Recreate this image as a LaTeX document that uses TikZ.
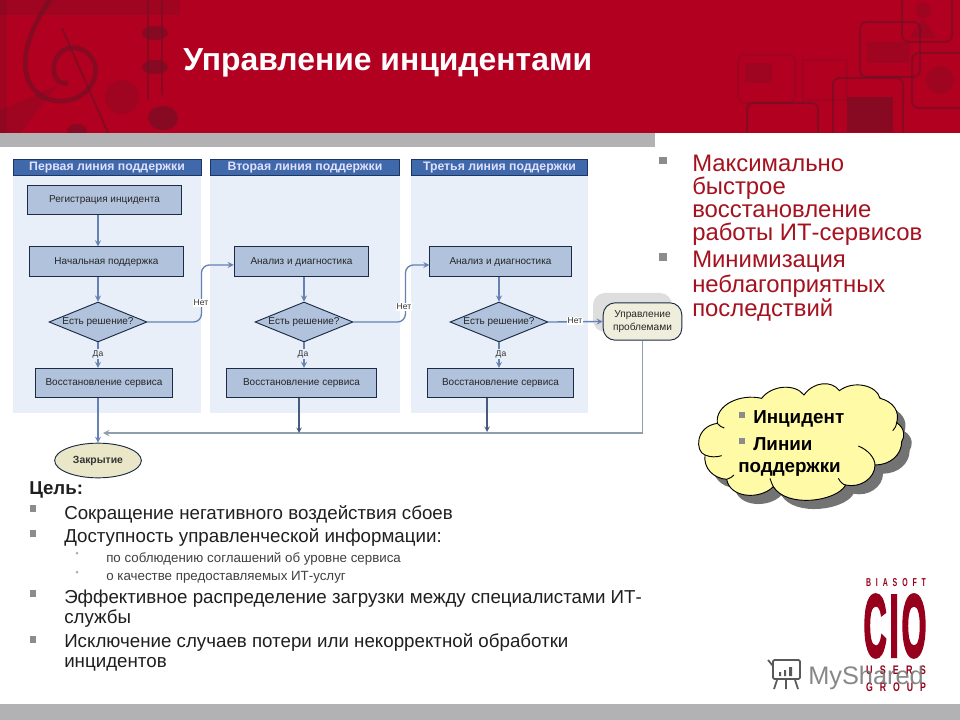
\documentclass[tikz,border=0pt]{standalone}
\usepackage{fontspec}
\setmainfont{Liberation Sans}
\newfontfamily\logofont[FakeBold=4]{Liberation Sans Bold}
\usetikzlibrary{positioning,shapes.geometric,calc}
\definecolor{hdrred}{HTML}{B20021}
\definecolor{darkred}{HTML}{5E1424}
\definecolor{txtred}{HTML}{A5121F}
\definecolor{band}{HTML}{B2B2B4}
\definecolor{bullet}{HTML}{8C8C8C}
\definecolor{lanefill}{HTML}{E9EFF8}
\definecolor{headfill}{HTML}{3F69AA}
\definecolor{headline}{HTML}{1D3560}
\definecolor{boxfill}{HTML}{B0C2DC}
\definecolor{boxline}{HTML}{1B2A45}
\definecolor{arrowblue}{HTML}{6482B4}
\definecolor{returnline}{HTML}{8E9EAC}
\definecolor{cloudfill}{HTML}{FFFAA6}
\definecolor{closefill}{HTML}{E9E7C8}
\definecolor{probfill}{HTML}{EFEEDD}
\tikzset{%
  lane/.style = {fill=lanefill,draw=none},
  lanehead/.style = {rectangle,draw=headline,fill=headfill,line width=.7pt,
        text=white!88!blue,font=\fontsize{9.2}{11}\selectfont\bfseries,inner sep=0pt,
        text height=6.6pt,text depth=1.6pt},
  taskbox/.style = {rectangle,draw=boxline,fill=boxfill,line width=.7pt,
        minimum height=22pt,inner sep=0pt,font=\fontsize{7.5}{10}\selectfont,text=black!85,
        text height=6pt,text depth=1.6pt},
  decide/.style = {diamond,draw=boxline,fill=boxfill,line width=.7pt,aspect=2.45,
        minimum width=73.5pt,minimum height=30pt,inner sep=0pt,
        font=\fontsize{7.5}{10}\selectfont,text=black!85},
  flow/.style = {-stealth,arrowblue,line width=1pt},
  flowgray/.style = {-stealth,black!30!arrowblue,line width=.8pt},
  tag/.style = {font=\fontsize{6.4}{8}\selectfont,inner sep=.6pt,text=black!80},
  redline/.style = {anchor=base west,inner sep=0pt,text=txtred,font=\fontsize{17.9}{18}\selectfont},
  goalline/.style = {anchor=base west,inner sep=0pt,font=\fontsize{14.05}{14}\selectfont,text=black!88},
  subline/.style = {anchor=base west,inner sep=0pt,font=\fontsize{10}{10}\selectfont,text=black!75},
  cloudline/.style = {anchor=base west,inner sep=0pt,font=\fontsize{14.1}{14}\selectfont\bfseries},
  decor/.style = {darkred,opacity=.5},
  faint/.style = {darkred,opacity=.22},
  logo/.style = {anchor=center,inner sep=0pt,text=hdrred!85!black}
}
\def\cloudpath{(112,160) .. controls (105,105) and (180,70) .. (245,85)
  .. controls (275,45) and (345,40) .. (372,75)
  .. controls (400,35) and (455,30) .. (478,62)
  .. controls (520,30) and (590,45) .. (600,85)
  .. controls (640,95) and (660,125) .. (650,158)
  .. controls (675,175) and (675,200) .. (665,215)
  .. controls (665,255) and (630,285) .. (585,285)
  .. controls (585,325) and (540,355) .. (497,345)
  .. controls (470,395) and (320,415) .. (280,350)
  .. controls (240,390) and (150,385) .. (140,328)
  .. controls (100,325) and (70,295) .. (75,255)
  .. controls (45,245) and (45,170) .. (112,160) -- cycle}

\begin{document}
\begin{tikzpicture}[x=.75pt,y=-.75pt]
\useasboundingbox (0,0) rectangle (960,720);
\fill[white] (0,0) rectangle (960,720);
% top bar
\fill[hdrred] (0,0) rectangle (960,133);
\fill[band] (0,133) rectangle (655,147);
\fill[band] (0,704) rectangle (960,720);
% clef and notes
\begin{scope}
\clip (0,0) rectangle (960,133);
\fill[faint] (0,0) rectangle (7,133);
\fill[faint] (0,0) rectangle (180,15);
\fill[faint] (0,133) -- (0,110) -- (58,85) -- (20,133) -- cycle;
\draw[decor,line width=3.5pt] (50,0) .. controls (22,40) and (15,80) .. (43,97)
  .. controls (70,110) and (100,90) .. (95,65)
  .. controls (88,42) and (58,42) .. (54,65) .. controls (52,78) and (60,85) .. (68,83);
\draw[decor,line width=1.5pt] (62,28) -- (108,133);
\draw[decor,line width=2pt] (148,0) -- (148,100);
\draw[decor,line width=2pt] (162,0) -- (162,95);
\fill[decor] (155,33) ellipse (13 and 7);
\fill[decor] (155,67) ellipse (13 and 7);
\fill[faint] (122,97) ellipse (17 and 17);
\fill[decor] (163,118) ellipse (15 and 12);
\fill[decor] (77,131) ellipse (10 and 7);
\end{scope}
% screens
\begin{scope}
\clip (0,0) rectangle (960,133);
\draw[decor,line width=1.5pt,rounded corners=5pt] (902,-5) rectangle (952,42);
\draw[decor,line width=1.5pt,rounded corners=5pt] (860,22) rectangle (920,77);
\draw[decor,line width=1.5pt,rounded corners=5pt] (912,53) rectangle (965,108);
\draw[decor,line width=1.5pt,rounded corners=5pt] (833,78) rectangle (903,140);
\draw[decor,line width=1.5pt,rounded corners=5pt] (747,103) rectangle (818,140);
\draw[faint,line width=1.5pt,rounded corners=5pt] (738,55) rectangle (795,103);
\draw[faint,line width=1.5pt] (803,60) rectangle (847,100);
\fill[faint] (867,42) rectangle (910,63);
\fill[decor] (847,97) rectangle (893,132);
\fill[faint] (745,63) rectangle (772,83);
\fill[faint] (923,10) circle (8);
\fill[faint] (923,18) -- (937,38) -- (909,38) -- cycle;
\fill[faint] (940,80) circle (14);
\end{scope}
\node[anchor=base west,inner sep=0pt,text=white,font=\fontsize{23.9}{24}\selectfont\bfseries] (title) at (183,70.5) {Управление инцидентами};

% lanes
\fill[lane] (13,176) rectangle (201,413);
\fill[lane] (210,176) rectangle (400,413);
\fill[lane] (411,176) rectangle (588,413);
\node[lanehead,minimum width=141pt,minimum height=12.5pt] (head1) at (107,167.5) {Первая линия поддержки};
\node[lanehead,minimum width=142pt,minimum height=12.5pt] (head2) at (305,167.5) {Вторая линия поддержки};
\node[lanehead,minimum width=132pt,minimum height=12pt] (head3) at (499.5,167) {Третья линия поддержки};

% first line
\node[taskbox,minimum width=116pt] (reg) at (104.5,200) {Регистрация инцидента};
\node[taskbox,minimum width=116pt] (init1) at (106.5,261.5) {Начальная поддержка};
\node[decide] (dec1) at (98,322) {Есть решение?};
\node[taskbox,minimum width=103pt] (rest1) at (104,383) {Восстановление сервиса};
\node[ellipse,draw=boxline,fill=closefill,line width=.7pt,minimum width=65pt,minimum height=26pt,inner sep=0pt,
  font=\fontsize{7.8}{10}\selectfont\bfseries,text=black!80] (close) at (98,460.5) {Закрытие};
% second line
\node[taskbox,minimum width=101pt] (an2) at (301.5,261.5) {Анализ и диагностика};
\node[decide] (dec2) at (304,322) {Есть решение?};
\node[taskbox,minimum width=112pt] (rest2) at (301.5,383) {Восстановление сервиса};
% third line
\node[taskbox,minimum width=106pt] (an3) at (500.5,261.5) {Анализ и диагностика};
\node[decide] (dec3) at (499,322) {Есть решение?};
\node[taskbox,minimum width=110pt] (rest3) at (500.5,383) {Восстановление сервиса};
% problems
\fill[black!13,rounded corners=9pt] (593,293) rectangle (672,332);
\node[rectangle,rounded corners=9pt,draw=boxline,fill=probfill,line width=.7pt,minimum width=59pt,minimum height=28pt,
  inner sep=0pt,align=center,font=\fontsize{7.6}{9.6}\selectfont,text=black!85] (prob) at (642.5,321.5) {Управление\\проблемами};

\coordinate (join1) at (103,433);
\coordinate (join2) at (299,433);
\coordinate (join3) at (487,432);

\draw[-stealth,returnline,line width=1.1pt] (prob.south) |- (join1);
\draw[flow] (dec1 |- reg.south) -- (dec1 |- init1.north);
\draw[flow] (dec1 |- init1.south) -- (dec1.north);
\draw[flow] (dec1.south) -- (dec1 |- rest1.north);
\draw[flow] (close |- rest1.south) -- (close.north);
\draw[flow,rounded corners=6pt] (dec1.east) -- ++(54,0) |- ([yshift=-2.6pt]an2.west);
\draw[flow] (dec2 |- an2.south) -- (dec2.north);
\draw[flow] (dec2.south) -- (dec2 |- rest2.north);
\draw[flowgray] (join2 |- rest2.south) -- (join2);
\draw[flow,rounded corners=6pt] (dec2.east) -- ++(52,0) |- ([yshift=-2.6pt]an3.west);
\draw[flow] (dec3 |- an3.south) -- (dec3.north);
\draw[flow] (dec3.south) -- (dec3 |- rest3.north);
\draw[flowgray] (join3 |- rest3.south) -- (join3);
\draw[flow] (dec3.east) -- (prob.west);

\node[tag,fill=white] (no1) at (201,303) {Нет};
\node[tag,fill=white] (no2) at (404,307) {Нет};
\node[tag,fill=white] (no3) at (575,321) {Нет};
\node[tag,fill=lanefill] (yes1) at (98,354) {Да};
\node[tag,fill=lanefill] (yes2) at (303,354) {Да};
\node[tag,fill=lanefill] (yes3) at (501,354) {Да};

% right list
\fill[bullet] (659,157) rectangle (667,164);
\fill[bullet] (659,253) rectangle (667,261);
\node[redline] (max1) at (692,172) {Максимально};
\node[redline] (max2) at (692,195) {быстрое};
\node[redline] (max3) at (692,218) {восстановление};
\node[redline] (max4) at (692,241) {работы ИТ-сервисов};
\node[redline] (min1) at (692,268) {Минимизация};
\node[redline] (min2) at (692,292) {неблагоприятных};
\node[redline] (min3) at (692,316) {последствий};

% cloud
\begin{scope}[shift={(680,370)},x=.25pt,y=-.25pt]
\begin{scope}[shift={(24,26)}]
\fill[black!55] \cloudpath;
\end{scope}
\draw[fill=cloudfill,line width=.7pt] \cloudpath;
\draw[line width=.7pt] (112,160) .. controls (118,168) and (125,172) .. (133,174)
  (75,255) .. controls (90,262) and (110,262) .. (125,257)
  (280,350) .. controls (275,340) and (272,332) .. (270,325)
  (585,285) .. controls (585,265) and (565,240) .. (535,228)
  (650,158) .. controls (648,170) and (643,178) .. (638,182)
  (140,328) .. controls (150,325) and (158,320) .. (162,315)
  (497,345) .. controls (490,345) and (480,335) .. (475,325);
\end{scope}
\fill[bullet] (739,412) rectangle (745,418);
\fill[bullet] (739,438) rectangle (745,444);
\node[cloudline] (cl1) at (753,423) {Инцидент};
\node[cloudline] (cl2) at (753,450) {Линии};
\node[cloudline] (cl3) at (738,472) {поддержки};

% goal list
\node[goalline,font=\fontsize{14}{14}\selectfont\bfseries] (goal) at (29,494) {Цель:};
\fill[bullet] (30,505) rectangle (36,512);
\fill[bullet] (30,530) rectangle (36,537);
\fill[bullet] (30,590) rectangle (36,597);
\fill[bullet] (30,636) rectangle (36,643);
\fill[bullet!70] (77,553) circle (1.5);
\fill[bullet!70] (77,572) circle (1.5);
\node[goalline] (g1) at (64,519) {Сокращение негативного воздействия сбоев};
\node[goalline] (g2) at (64,542.5) {Доступность управленческой информации:};
\node[subline] (g2a) at (106,562) {по соблюдению соглашений об уровне сервиса};
\node[subline] (g2b) at (106,580) {о качестве предоставляемых ИТ-услуг};
\node[goalline] (g3) at (64,603) {Эффективное распределение загрузки между специалистами ИТ-};
\node[goalline] (g3b) at (64,623) {службы};
\node[goalline] (g4) at (64,647) {Исключение случаев потери или некорректной обработки};
\node[goalline] (g4b) at (64,667) {инцидентов};

% logo
\node[logo] (biasoft) at (896,583) {\resizebox{45pt}{6pt}{\bfseries B\hspace{.7em}I\hspace{.7em}A\hspace{.7em}S\hspace{.7em}O\hspace{.7em}F\hspace{.7em}T}};
\node[logo] (cio) at (895,626) {\resizebox{47pt}{46pt}{\logofont C\hspace{.1em}I\hspace{.1em}O}};
\node[logo] (users) at (896,670) {\resizebox{45pt}{6.5pt}{\bfseries U\hspace{.8em}S\hspace{.8em}E\hspace{.8em}R\hspace{.8em}S}};
\node[logo] (group) at (896,687.5) {\resizebox{45pt}{6.5pt}{\bfseries G\hspace{.8em}R\hspace{.8em}O\hspace{.8em}U\hspace{.8em}P}};
% watermark
\node[anchor=base west,inner sep=0pt,text=black!55,opacity=.85,font=\fontsize{19}{22}\selectfont] (mark) at (808,684) {MyShared};
\begin{scope}[black!65,line width=1.3pt]
\draw[rounded corners=1pt] (773,660) -- (800,660) -- (800,679) -- (773,679) -- cycle;
\draw (768,660) -- (773,666);
\draw (777,680) -- (774,689) (786,680) -- (786,689) (795,680) -- (798,689);
\fill (779,672) rectangle (781,676) (784,670) rectangle (786,676) (789,667) rectangle (792,676);
\end{scope}
\end{tikzpicture}
\end{document}
